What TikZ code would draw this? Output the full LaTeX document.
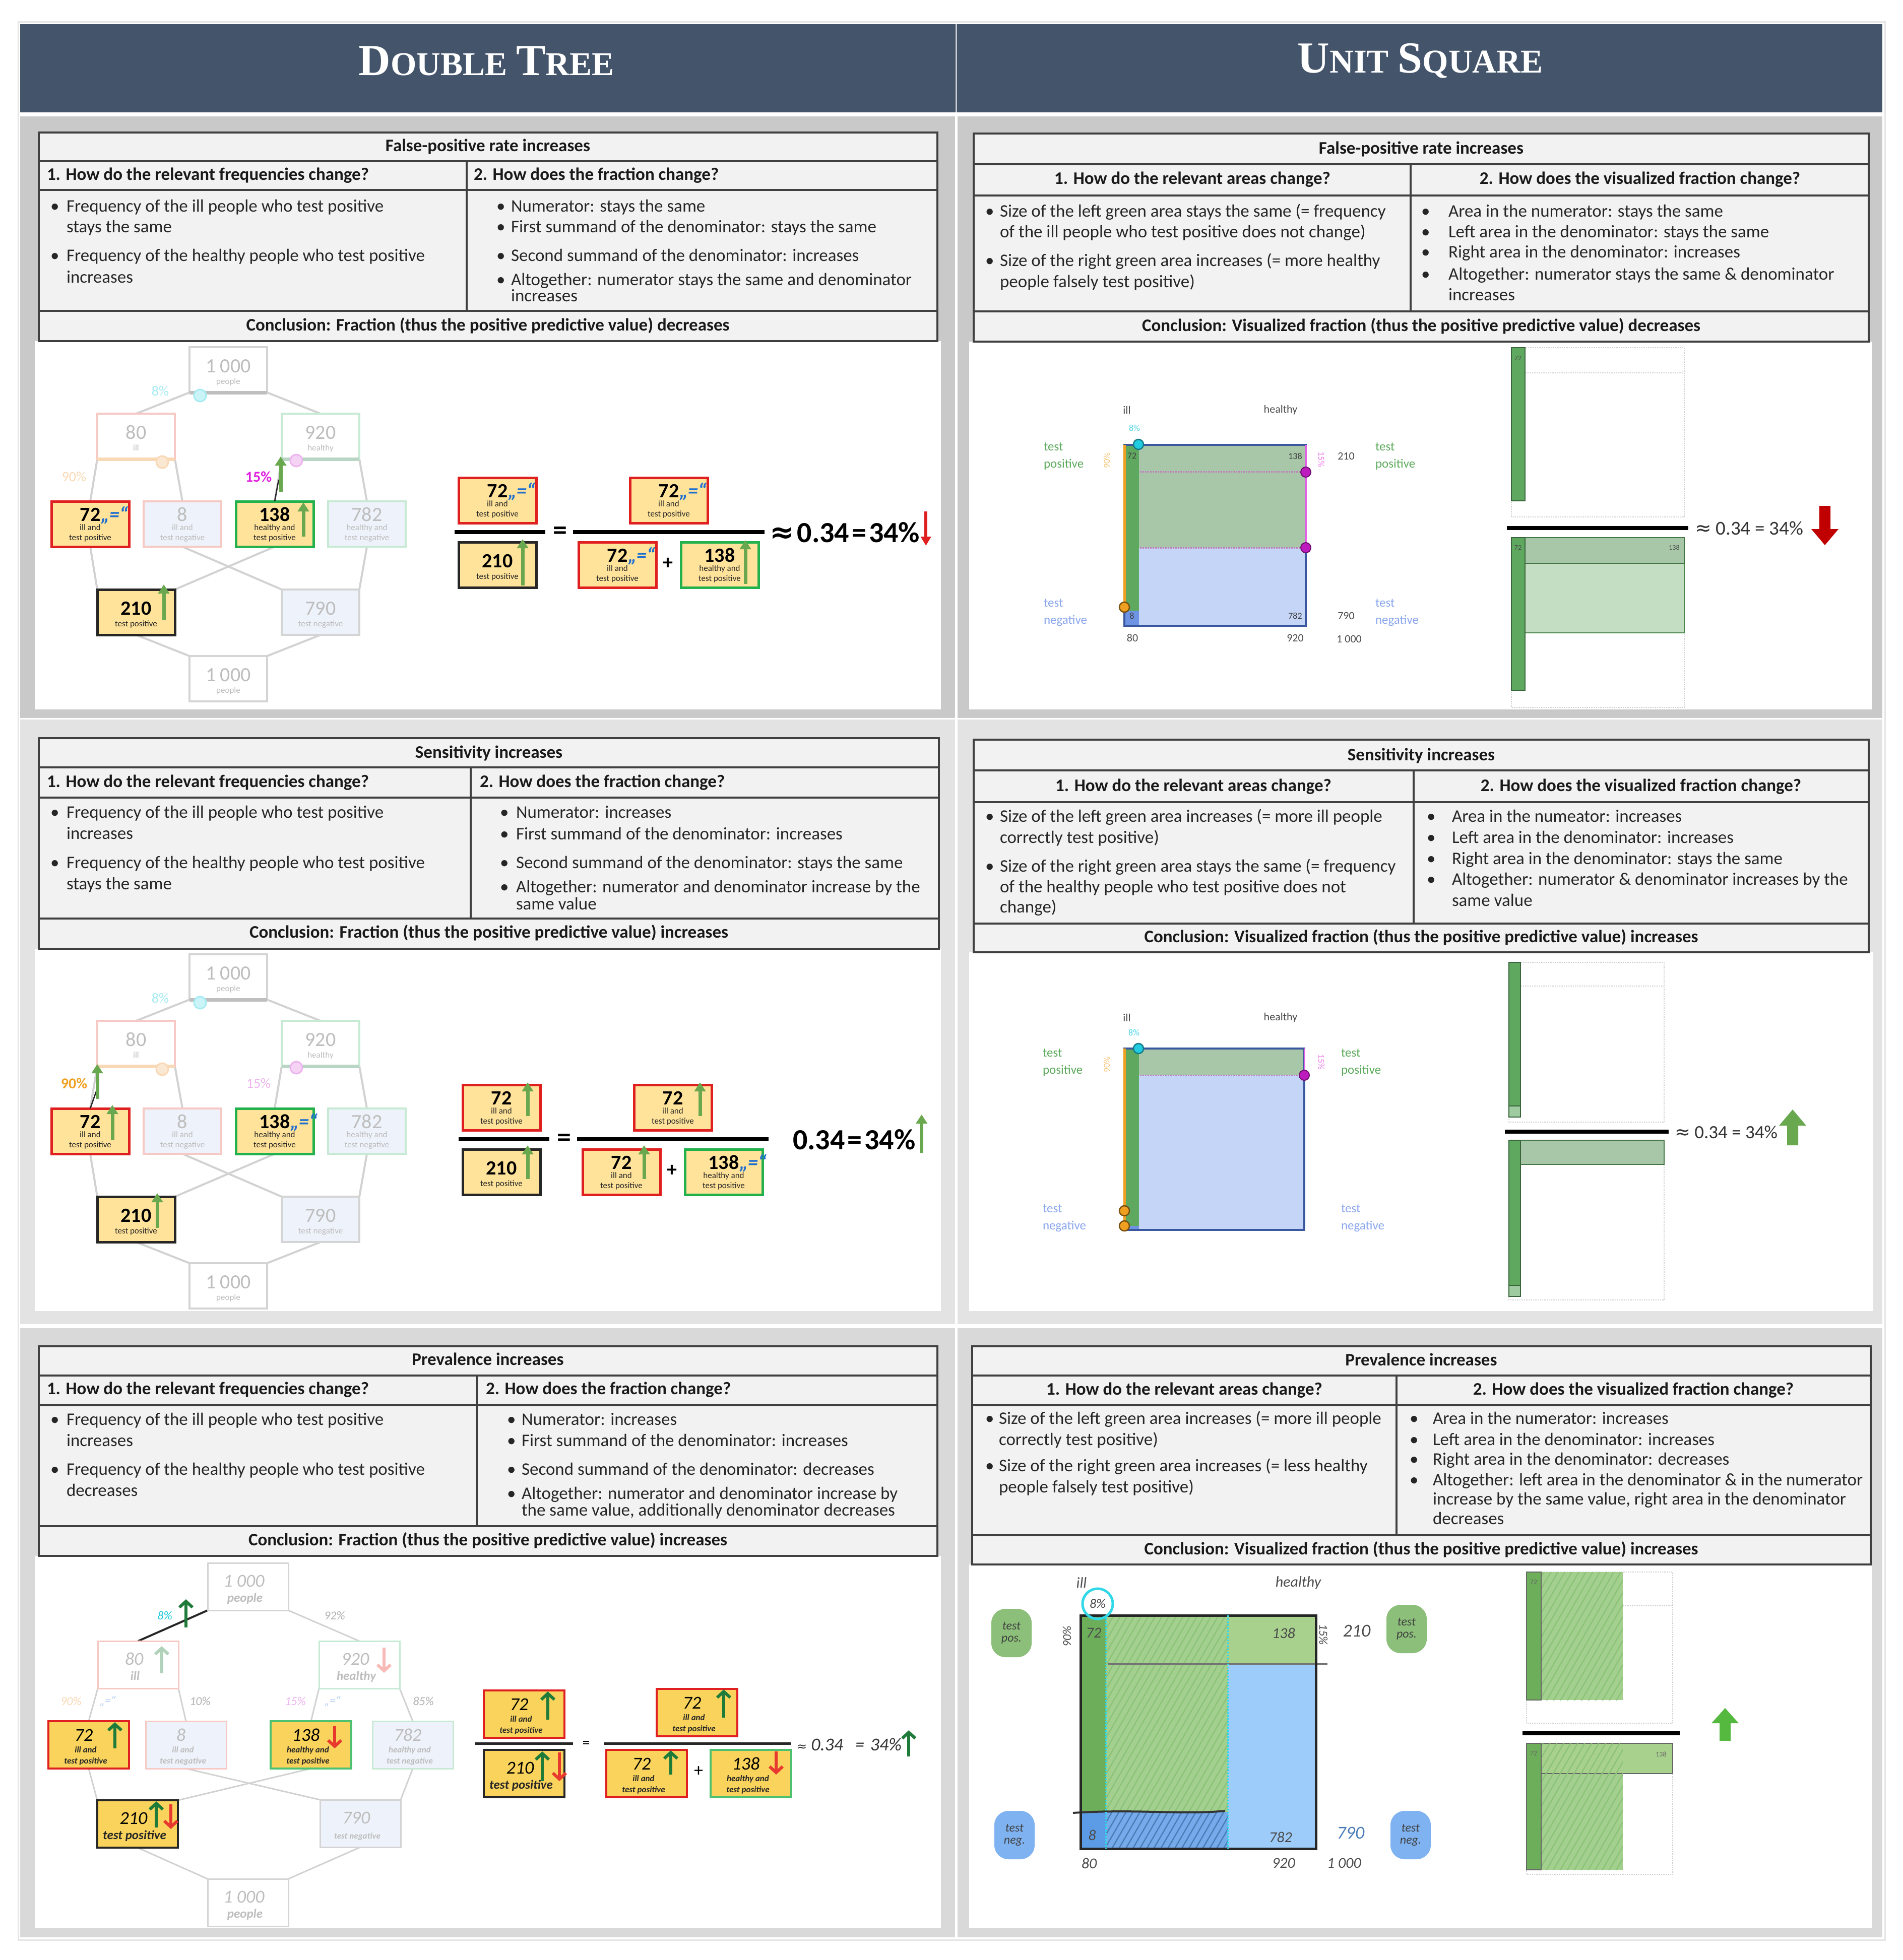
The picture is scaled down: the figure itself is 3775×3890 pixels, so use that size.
\documentclass[tikz,border=0pt]{standalone}
\usepackage{fontspec}
\setmainfont{Carlito}
\newfontfamily\serifT{Liberation Serif}
\newfontfamily\dejavu{DejaVu Sans}
\usetikzlibrary{arrows.meta,calc,patterns.meta}
\pgfdeclarelayer{bg}
\pgfdeclarelayer{lines}
\pgfsetlayers{bg,lines,main}

\definecolor{titlebg}{HTML}{44546A}
\definecolor{frameC}{HTML}{E6E6E6}
\definecolor{panelA}{HTML}{C9C9C9}
\definecolor{panelB}{HTML}{E3E3E3}
\definecolor{panelC}{HTML}{D9D9D9}
\definecolor{tblfill}{HTML}{F2F2F2}
\definecolor{tblC}{HTML}{404040}
\definecolor{boxgray}{HTML}{D4D4D4}
\definecolor{connC}{HTML}{D2D2D2}
\definecolor{txtgray}{HTML}{BDBDBD}
\definecolor{boxpink}{HTML}{F6C9C4}
\definecolor{boxmint}{HTML}{C7EAD4}
\definecolor{paleblue}{HTML}{EEF2FA}
\definecolor{yellowA}{HTML}{FFE39A}
\definecolor{yellowC}{HTML}{F9D35B}
\definecolor{redB}{HTML}{E02020}
\definecolor{greenB}{HTML}{22B14C}
\definecolor{arrowG}{HTML}{6AA84F}
\definecolor{quoteblue}{HTML}{1F6FD0}
\definecolor{cyanL}{HTML}{A6ECF2}
\definecolor{cyanB}{HTML}{22CCE0}
\definecolor{peachL}{HTML}{F9D9B5}
\definecolor{orangeA}{HTML}{F0A020}
\definecolor{magentaA}{HTML}{E020E0}
\definecolor{pinkL}{HTML}{EDB5EE}
\definecolor{sqblue}{HTML}{C5D5F7}
\definecolor{sqborder}{HTML}{3A58A0}
\definecolor{sqgreen}{HTML}{A8C7A9}
\definecolor{sqgreenL}{HTML}{C4DEC4}
\definecolor{stripgreen}{HTML}{5FA860}
\definecolor{stripblue}{HTML}{6F93E3}
\definecolor{labgreen}{HTML}{5DAA5D}
\definecolor{labblue}{HTML}{8AA6EE}
\definecolor{darkred}{HTML}{C00000}
\definecolor{hgreen}{HTML}{1E7B3A}
\definecolor{hred}{HTML}{E8392F}
\definecolor{hatchG}{HTML}{6FB456}
\definecolor{hfillG}{HTML}{A3D08E}
\definecolor{hstrip}{HTML}{6DAE5A}
\definecolor{hgreenL}{HTML}{A9D18E}
\definecolor{hblue}{HTML}{9DCCFA}
\definecolor{hblueD}{HTML}{5C9CE6}
\definecolor{cyanH}{HTML}{30D8E8}
\definecolor{blobG}{HTML}{8CC07A}
\definecolor{blobB}{HTML}{7FB2F0}

\newcommand{\gy}{\color{txtgray}}
\newcommand{\qeq}{\rlap{\hspace{1pt}\color{quoteblue}\bfseries\itshape „=“}}
\newcommand{\hbig}{\fontsize{25}{25}\selectfont}

\tikzset{
  ttl/.style={font=\fontsize{35}{35}\selectfont\bfseries, text=black!90, text height=25pt, text depth=8pt},
  hdr/.style={ttl, anchor=west},
  body/.style={font=\fontsize{35}{35}\selectfont, text=black!85, text height=25pt, text depth=8pt, anchor=west},
  tblline/.style={draw=tblC, line width=3.5pt},
  conn/.style={draw=connC, line width=4pt},
  boxbase/.style={minimum width=154pt, minimum height=90pt, line width=4pt},
  gbox/.style={boxbase, draw=boxgray, fill=white},
  pbox/.style={boxbase, draw=boxpink, fill=white},
  mbox/.style={boxbase, draw=boxmint, fill=white},
  pbB/.style={boxbase, draw=boxpink, fill=paleblue},
  mbB/.style={boxbase, draw=boxmint, fill=paleblue},
  gbB/.style={boxbase, draw=boxgray, fill=paleblue},
  yR/.style={boxbase, draw=redB, fill=yellowA, line width=5pt},
  yG/.style={boxbase, draw=greenB, fill=yellowA, line width=5pt},
  yK/.style={boxbase, draw=black!85, fill=yellowA, line width=5pt},
  hb/.style={minimum width=160pt, minimum height=94pt, line width=3pt},
  gbox3/.style={hb, draw=boxgray, fill=white},
  pbox3/.style={hb, draw=boxpink, fill=white},
  mbox3/.style={hb, draw=boxmint, fill=white},
  pbB3/.style={hb, draw=boxpink, fill=paleblue},
  mbB3/.style={hb, draw=boxmint, fill=paleblue},
  gbB3/.style={hb, draw=boxgray, fill=paleblue},
  yR3/.style={hb, draw=redB, fill=yellowC, line width=4pt},
  yG3/.style={hb, draw=greenB!80, fill=yellowC, line width=4pt},
  yK3/.style={hb, draw=black!85, fill=yellowC, line width=4pt},
  numtxt/.style={font=\fontsize{40}{40}\selectfont, text=black, text height=27pt, text depth=0pt},
  smtxt/.style={font=\fontsize{17}{17}\selectfont, text=black!85, text height=12pt, text depth=4pt},
  hnum/.style={font=\fontsize{36}{36}\selectfont\itshape, text=black, text height=25pt, text depth=0pt},
  hsm/.style={font=\fontsize{17}{17}\selectfont\itshape\bfseries, text=black!85, text height=12pt, text depth=4pt},
  garrow/.style={draw=arrowG, line width=7pt, -{Triangle[width=22pt,length=18pt]}},
  rarrow/.style={draw=redB, line width=6pt, -{Triangle[width=20pt,length=18pt]}},
  hgar/.style={draw=hgreen, line width=6pt, -{Straight Barb[length=12pt,width=26pt]}},
  hrar/.style={draw=hred, line width=6pt, -{Straight Barb[length=12pt,width=26pt]}},
  fracbar/.style={draw=black, line width=8pt},
  eqtxt/.style={font=\fontsize{56}{56}\selectfont\bfseries},
  restxt/.style={font=\fontsize{58}{58}\selectfont\bfseries, anchor=west, text height=38pt, text depth=0pt},
  pct/.style={font=\fontsize{28}{28}\selectfont},
  usl/.style={font=\fontsize{22}{22}\selectfont, text=black!70},
  usn/.style={font=\fontsize{18}{18}\selectfont, text=black!75},
  ustp/.style={font=\fontsize{25}{34}\selectfont, align=left, anchor=west},
  usres/.style={font=\fontsize{39}{39}\selectfont, text=black!80, anchor=west, text height=27pt, text depth=0pt},
  dotline/.style={draw=violet!50, line width=3pt, dotted},
  dotbox/.style={draw=black!18, line width=2.5pt, dotted},
  hwl/.style={font=\fontsize{30}{30}\selectfont\itshape, text=black!70},
  hpct/.style={font=\fontsize{24}{24}\selectfont\itshape},
  hatch/.style={pattern={Lines[angle=60,distance=12pt,line width=2.5pt]}, pattern color=hatchG!80},
  blob/.style={rounded corners=28pt, minimum width=80pt, minimum height=96pt, align=center, font=\fontsize{24}{24}\selectfont\itshape, text=black!75}
}

\newcommand{\Tbl}[8]{%
  \fill[tblfill] (#1,#3) rectangle (#2,#7);
  \draw[tblline] (#1,#4) -- (#2,#4);
  \draw[tblline] (#1,#5) -- (#2,#5);
  \draw[tblline] (#1,#6) -- (#2,#6);
  \draw[tblline] (#8,#4) -- (#8,#6);
  \draw[tblline] (#1,#3) rectangle (#2,#7);}
\newcommand{\Ti}[5]{\node[body] (#1d) at (#2,#4) {\textbullet}; \node[body] (#1) at (#3,#4) {#5};}
\newcommand{\Tl}[4]{\node[body] (#1) at (#2,#3) {#4};}

\newcommand{\TwoL}[6]{%
  \node[#4] (#1) at (#2,#3) {};
  \node[numtxt] (#1n) at ($(#1.center)+(0,-8)$) {#5};
  \node[smtxt] (#1a) at ($(#1.center)+(0,24)$) {#6};}
\newcommand{\ThreeL}[7]{%
  \node[#4] (#1) at (#2,#3) {};
  \node[numtxt] (#1n) at ($(#1.center)+(0,-19)$) {#5};
  \node[smtxt] (#1a) at ($(#1.center)+(0,8)$) {#6};
  \node[smtxt] (#1b) at ($(#1.center)+(0,28)$) {#7};}
\newcommand{\TwoH}[6]{%
  \node[#4] (#1) at (#2,#3) {};
  \node[hnum] (#1n) at ($(#1.center)+(-8,-12)$) {#5};
  \node[hsm] (#1a) at ($(#1.center)+(-6,26)$) {#6};}
\newcommand{\ThreeH}[7]{%
  \node[#4] (#1) at (#2,#3) {};
  \node[hnum] (#1n) at ($(#1.center)+(-10,-20)$) {#5};
  \node[hsm] (#1a) at ($(#1.center)+(-6,11)$) {#6};
  \node[hsm] (#1b) at ($(#1.center)+(-6,33)$) {#7};}

% block arrow: x, ytip, yhead, ybase, color
\newcommand{\BArrow}[5]{\fill[#5] (#1-11,#4) -- (#1-11,#3) -- (#1-27,#3) -- (#1,#2) -- (#1+27,#3) -- (#1+11,#3) -- (#1+11,#4) -- cycle;}

\newcommand{\DTree}[4]{%
  \TwoL{#1T}{453}{734+#2}{gbox}{\gy 1\hspace{8pt}000}{\gy people}
  \TwoL{#1I}{270}{866+#2}{pbox}{\gy 80}{\gy ill}
  \TwoL{#1H}{636}{866+#2}{mbox}{\gy 920}{\gy healthy}
  \ThreeL{#1A}{179}{1040+#2}{yR}{#3}{ill and}{test positive}
  \ThreeL{#1B}{362}{1040+#2}{pbB}{\gy 8}{\gy ill and}{\gy test negative}
  \ThreeL{#1C}{545}{1040+#2}{yG}{#4}{healthy and}{test positive}
  \ThreeL{#1D}{728}{1040+#2}{mbB}{\gy 782}{\gy healthy and}{\gy test negative}
  \TwoL{#1P}{270}{1215+#2}{yK}{\bfseries 210}{test positive}
  \TwoL{#1N}{636}{1215+#2}{gbB}{\gy 790}{\gy test negative}
  \TwoL{#1E}{453}{1347+#2}{gbox}{\gy 1\hspace{8pt}000}{\gy people}
  \begin{pgfonlayer}{lines}
  \draw[conn] (#1T.south west) -- (#1I.north);
  \draw[conn] (#1T.south east) -- (#1H.north);
  \draw[conn] (#1I.south west) -- (#1A.north);
  \draw[conn] (#1I.south east) -- (#1B.north);
  \draw[conn] (#1H.south west) -- (#1C.north);
  \draw[conn] (#1H.south east) -- (#1D.north);
  \draw[conn] (#1A.south) -- (#1P.north west);
  \draw[conn] (#1C.south) -- (#1P.north east);
  \draw[conn] (#1B.south) -- (#1N.north west);
  \draw[conn] (#1D.south) -- (#1N.north east);
  \draw[conn] (#1P.south) -- (#1E.north west);
  \draw[conn] (#1N.south) -- (#1E.north east);
  \end{pgfonlayer}
  \draw[line width=7pt, black!25] (#1T.south west) -- (#1T.south east);
  \draw[line width=7pt, peachL] (#1I.south west) -- (#1I.south east);
  \draw[line width=7pt, boxmint!80!gray] (#1H.south west) -- (#1H.south east);
  \filldraw[fill=cyanL!60, draw=cyanL, line width=3pt] ($(#1T.south west)+(21,6)$) circle (12);
  \filldraw[fill=peachL!60, draw=peachL, line width=3pt] ($(#1I.south west)+(129,6)$) circle (12);
  \filldraw[fill=pinkL!60, draw=pinkL, line width=3pt] ($(#1H.south west)+(29,3)$) circle (12);
}

\newcommand{\LFrac}[5]{%
  \ThreeL{#1a}{987+#3}{993+#2}{yR}{#4}{ill and}{test positive}
  \TwoL{#1b}{987+#3}{1121+#2}{yK}{\bfseries 210}{test positive}
  \ThreeL{#1c}{1327+#3}{993+#2}{yR}{#4}{ill and}{test positive}
  \ThreeL{#1d}{1225+#3}{1121+#2}{yR}{#4}{ill and}{test positive}
  \ThreeL{#1e}{1428+#3}{1121+#2}{yG}{#5}{healthy and}{test positive}
  \node[eqtxt] (#1eq) at (1111+#3,1058+#2) {=};
  \node[font=\fontsize{40}{40}\selectfont\bfseries] (#1pl) at (1325+#3,1118+#2) {+};
  \draw[fracbar] (902+#3,1056+#2) -- (1082+#3,1056+#2);
  \draw[fracbar] (1137+#3,1056+#2) -- (1517+#3,1056+#2);
}

\begin{document}
\begin{tikzpicture}[x=1pt,y=-1pt, every node/.style={inner sep=0pt,outer sep=0pt}]
\useasboundingbox (0,0) rectangle (3775,3890);
\begin{pgfonlayer}{bg}
\fill[white] (0,0) rectangle (3775,3890);
\draw[frameC, line width=3pt] (36,43) rectangle (3740,3850);
\fill[titlebg] (40,48) rectangle (3735,223);
\draw[white!70!titlebg, line width=3pt] (1897,48) -- (1897,223);
\fill[panelA] (40,231) rectangle (1895,1425);
\fill[panelA] (1900,231) rectangle (3735,1425);
\fill[panelB] (40,1428) rectangle (1895,2628);
\fill[panelB] (1900,1428) rectangle (3735,2628);
\fill[panelC] (40,2636) rectangle (1895,3845);
\fill[panelC] (1900,2636) rectangle (3735,3845);
\fill[white] (69,677) rectangle (1867,1408);
\fill[white] (1923,678) rectangle (3715,1408);
\fill[white] (69,1883) rectangle (1867,2602);
\fill[white] (1923,1890) rectangle (3717,2602);
\fill[white] (69,3088) rectangle (1867,3826);
\fill[white] (1923,3105) rectangle (3715,3826);
\end{pgfonlayer}

% ---------- titles
\node[font=\serifT\bfseries, text=white] (ttlA) at (965,121) {\fontsize{88}{88}\selectfont D\fontsize{66}{66}\selectfont OUBLE\hspace{18pt}\fontsize{88}{88}\selectfont T\fontsize{66}{66}\selectfont REE};
\node[font=\serifT\bfseries, text=white] (ttlB) at (2818,121) {\fontsize{88}{88}\selectfont U\fontsize{66}{66}\selectfont NIT\hspace{18pt}\fontsize{88}{88}\selectfont S\fontsize{66}{66}\selectfont QUARE};

% ---------- tables row 1
\Tbl{77}{1860}{263}{320}{377}{617}{677}{926}
\node[ttl] (r1Lt) at (968,292) {False-positive rate increases};
\node[hdr] (r1Lh1) at (93,349) {1. How do the relevant frequencies change?};
\node[hdr] (r1Lh2) at (940,349) {2. How does the fraction change?};
\Ti{r1La}{100}{132}{412}{Frequency of the ill people who test positive}
\Tl{r1Lb}{132}{453}{stays the same}
\Ti{r1Lc}{100}{132}{510}{Frequency of the healthy people who test positive}
\Tl{r1Ld}{132}{553}{increases}
\Ti{r1Le}{985}{1014}{412}{Numerator: stays the same}
\Ti{r1Lf}{985}{1014}{453}{First summand of the denominator: stays the same}
\Ti{r1Lg}{985}{1014}{510}{Second summand of the denominator: increases}
\Ti{r1Lh}{985}{1014}{558}{Altogether: numerator stays the same and denominator}
\Tl{r1Li}{1014}{590}{increases}
\node[ttl] (r1Lz) at (968,648) {Conclusion: Fraction (thus the positive predictive value) decreases};

\Tbl{1932}{3708}{265}{326}{388}{618}{678}{2799}
\node[ttl] (r1Rt) at (2820,297) {False-positive rate increases};
\node[ttl] (r1Rh1) at (2366,357) {1. How do the relevant areas change?};
\node[ttl] (r1Rh2) at (3254,357) {2. How does the visualized fraction change?};
\Ti{r1Ra}{1955}{1984}{422}{Size of the left green area stays the same (= frequency}
\Tl{r1Rb}{1984}{463}{of the ill people who test positive does not change)}
\Ti{r1Rc}{1955}{1984}{520}{Size of the right green area increases (= more healthy}
\Tl{r1Rd}{1984}{562}{people falsely test positive)}
\Ti{r1Re}{2820}{2874}{422}{Area in the numerator: stays the same}
\Ti{r1Rf}{2820}{2874}{463}{Left area in the denominator: stays the same}
\Ti{r1Rg}{2820}{2874}{503}{Right area in the denominator: increases}
\Ti{r1Rh}{2820}{2874}{547}{Altogether: numerator stays the same \& denominator}
\Tl{r1Ri}{2874}{588}{increases}
\node[ttl] (r1Rz) at (2820,649) {Conclusion: Visualized fraction (thus the positive predictive value) decreases};

% ---------- tables row 2
\Tbl{77}{1863}{1465}{1523}{1583}{1823}{1883}{934}
\node[ttl] (r2Lt) at (970,1496) {Sensitivity increases};
\node[hdr] (r2Lh1) at (93,1554) {1. How do the relevant frequencies change?};
\node[hdr] (r2Lh2) at (952,1554) {2. How does the fraction change?};
\Ti{r2La}{100}{132}{1615}{Frequency of the ill people who test positive}
\Tl{r2Lb}{132}{1657}{increases}
\Ti{r2Lc}{100}{132}{1715}{Frequency of the healthy people who test positive}
\Tl{r2Ld}{132}{1757}{stays the same}
\Ti{r2Le}{992}{1024}{1615}{Numerator: increases}
\Ti{r2Lf}{992}{1024}{1658}{First summand of the denominator: increases}
\Ti{r2Lg}{992}{1024}{1715}{Second summand of the denominator: stays the same}
\Ti{r2Lh}{992}{1024}{1763}{Altogether: numerator and denominator increase by the}
\Tl{r2Li}{1024}{1797}{same value}
\node[ttl] (r2Lz) at (970,1853) {Conclusion: Fraction (thus the positive predictive value) increases};

\Tbl{1932}{3708}{1468}{1529}{1592}{1833}{1890}{2805}
\node[ttl] (r2Rt) at (2820,1501) {Sensitivity increases};
\node[ttl] (r2Rh1) at (2368,1562) {1. How do the relevant areas change?};
\node[ttl] (r2Rh2) at (3256,1562) {2. How does the visualized fraction change?};
\Ti{r2Ra}{1955}{1984}{1623}{Size of the left green area increases (= more ill people}
\Tl{r2Rb}{1984}{1665}{correctly test positive)}
\Ti{r2Rc}{1955}{1984}{1722}{Size of the right green area stays the same (= frequency}
\Tl{r2Rd}{1984}{1763}{of the healthy people who test positive does not}
\Tl{r2Re}{1984}{1803}{change)}
\Ti{r2Rf}{2831}{2881}{1623}{Area in the numeator: increases}
\Ti{r2Rg}{2831}{2881}{1665}{Left area in the denominator: increases}
\Ti{r2Rh}{2831}{2881}{1707}{Right area in the denominator: stays the same}
\Ti{r2Ri}{2831}{2881}{1748}{Altogether: numerator \& denominator increases by the}
\Tl{r2Rj}{2881}{1790}{same value}
\node[ttl] (r2Rz) at (2820,1862) {Conclusion: Visualized fraction (thus the positive predictive value) increases};

% ---------- tables row 3
\Tbl{77}{1860}{2672}{2730}{2789}{3029}{3088}{946}
\node[ttl] (r3Lt) at (968,2701) {Prevalence increases};
\node[hdr] (r3Lh1) at (93,2759) {1. How do the relevant frequencies change?};
\node[hdr] (r3Lh2) at (964,2759) {2. How does the fraction change?};
\Ti{r3La}{100}{132}{2820}{Frequency of the ill people who test positive}
\Tl{r3Lb}{132}{2862}{increases}
\Ti{r3Lc}{100}{132}{2919}{Frequency of the healthy people who test positive}
\Tl{r3Ld}{132}{2961}{decreases}
\Ti{r3Le}{1006}{1035}{2820}{Numerator: increases}
\Ti{r3Lf}{1006}{1035}{2862}{First summand of the denominator: increases}
\Ti{r3Lg}{1006}{1035}{2919}{Second summand of the denominator: decreases}
\Ti{r3Lh}{1006}{1035}{2967}{Altogether: numerator and denominator increase by}
\Tl{r3Li}{1035}{3000}{the same value, additionally denominator decreases}
\node[ttl] (r3Lz) at (968,3059) {Conclusion: Fraction (thus the positive predictive value) increases};

\Tbl{1929}{3712}{2672}{2730}{2789}{3047}{3105}{2771}
\node[ttl] (r3Rt) at (2820,2702) {Prevalence increases};
\node[ttl] (r3Rh1) at (2350,2760) {1. How do the relevant areas change?};
\node[ttl] (r3Rh2) at (3241,2760) {2. How does the visualized fraction change?};
\Ti{r3Ra}{1955}{1982}{2818}{Size of the left green area increases (= more ill people}
\Tl{r3Rb}{1982}{2860}{correctly test positive)}
\Ti{r3Rc}{1955}{1982}{2912}{Size of the right green area increases (= less healthy}
\Tl{r3Rd}{1982}{2954}{people falsely test positive)}
\Ti{r3Re}{2797}{2843}{2818}{Area in the numerator: increases}
\Ti{r3Rf}{2797}{2843}{2860}{Left area in the denominator: increases}
\Ti{r3Rg}{2797}{2843}{2899}{Right area in the denominator: decreases}
\Ti{r3Rh}{2797}{2843}{2940}{Altogether: left area in the denominator \& in the numerator}
\Tl{r3Ri}{2843}{2978}{increase by the same value, right area in the denominator}
\Tl{r3Rj}{2843}{3017}{decreases}
\node[ttl] (r3Rz) at (2820,3077) {Conclusion: Visualized fraction (thus the positive predictive value) increases};

% ================= ROW 1 double tree
\DTree{a}{0}{\bfseries 72\qeq}{\bfseries 138}
\node[pct, text=cyanL] (ap8) at (318,776) {8\%};
\node[pct, text=peachL] (ap90) at (147,946) {90\%};
\node[pct, text=magentaA, font=\fontsize{30}{30}\selectfont\bfseries] (ap15) at (513,946) {15\%};
\draw[black!85, line width=2.5pt] (aC.north) -- ($(aC.north)+(8,-43)$);
\draw[garrow] ($(aC.north)+(12,-19)$) -- ($(aC.north)+(12,-89)$);
\draw[garrow] ($(aC.center)+(57,25)$) -- ($(aC.center)+(57,-43)$);
\draw[garrow] ($(aP.center)+(55,15)$) -- ($(aP.center)+(55,-55)$);
\LFrac{f}{0}{0}{\bfseries 72\qeq}{\bfseries 138}
\draw[garrow] ($(fb.center)+(50,41)$) -- ($(fb.center)+(50,-51)$);
\draw[garrow] ($(fe.center)+(51,38)$) -- ($(fe.center)+(51,-49)$);
\node[restxt] (fres) at (1527,1057) {{\dejavu\bfseries ≈}\hspace{6pt}0.34\hspace{5pt}=\hspace{5pt}34\%};
\draw[rarrow] (fres.east) ++(12,-42) -- ++(0,68);

% ================= ROW 1 unit square
\fill[sqblue] (2231,883) rectangle (2591,1242);
\fill[sqgreen] (2260,883) rectangle (2591,1087);
\fill[stripgreen] (2233,883) rectangle (2260,1212);
\fill[stripblue] (2233,1212) rectangle (2260,1242);
\draw[dotline] (2262,936) -- (2589,936);
\draw[dotline] (2262,1087) -- (2589,1087);
\draw[sqborder, line width=4pt] (2231,883) rectangle (2591,1242);
\draw[orangeA, line width=5pt] (2231,883) -- (2231,1205);
\draw[magentaA!70, line width=3pt] (2591,883) -- (2591,1087);
\filldraw[fill=cyanB, draw=cyanB!60!black, line width=2.5pt] (2259,882) circle (10);
\filldraw[fill=orangeA, draw=orangeA!50!black, line width=2.5pt] (2231,1205) circle (10);
\filldraw[fill=magentaA!85!black, draw=magentaA!50!black, line width=2pt] (2591,937) circle (10);
\filldraw[fill=magentaA!85!black, draw=magentaA!50!black, line width=2pt] (2591,1087) circle (10);
\node[usl] (u1ill) at (2236,814) {ill};
\node[usl] (u1hea) at (2541,814) {healthy};
\node[usn, text=cyanB!80] (u1p8) at (2251,849) {8\%};
\node[usn] (u1n72) at (2246,905) {72};
\node[usn] (u1n138) at (2570,905) {138};
\node[usn] (u1n8) at (2246,1222) {8};
\node[usn] (u1n782) at (2570,1222) {782};
\node[usl] (u1n210) at (2671,905) {210};
\node[usl] (u1n790) at (2671,1222) {790};
\node[usl] (u1n80) at (2247,1266) {80};
\node[usl] (u1n920) at (2570,1266) {920};
\node[usl] (u1n1000) at (2677,1268) {1\hspace{5pt}000};
\node[ustp, text=labgreen] (u1tpl) at (2071,906) {test\\positive};
\node[ustp, text=labgreen] (u1tpr) at (2729,906) {test\\positive};
\node[ustp, text=labblue] (u1tnl) at (2071,1216) {test\\negative};
\node[ustp, text=labblue] (u1tnr) at (2729,1216) {test\\negative};
\node[usn, text=orangeA!60, rotate=90] (u1r90) at (2196,914) {90\%};
\node[usn, text=magentaA!55, rotate=-90] (u1r15) at (2622,912) {15\%};
% fraction
\draw[dotbox] (2999,690) rectangle (3342,1026);
\draw[dotbox] (3026,740) -- (3342,740);
\filldraw[fill=stripgreen, draw=stripgreen!60!black, line width=2pt] (2999,690) rectangle (3026,994);
\node[font=\fontsize{14}{14}\selectfont, text=black!70] (u1f72a) at (3012,711) {72};
\draw[fracbar] (2990,1048) -- (3350,1048);
\node[usres] (u1res) at (3363,1048) {{\dejavu ≈} 0.34 = 34\%};
\BArrow{3621}{1082}{1050}{1004}{darkred}
\draw[dotbox] (2999,1067) rectangle (3342,1404);
\filldraw[fill=sqgreenL, draw=stripgreen!80!black, line width=2.5pt] (3026,1118) rectangle (3342,1256);
\filldraw[fill=sqgreen, draw=stripgreen!70!black, line width=2.5pt] (3026,1067) rectangle (3342,1118);
\filldraw[fill=stripgreen, draw=stripgreen!60!black, line width=2pt] (2999,1067) rectangle (3026,1370);
\node[font=\fontsize{14}{14}\selectfont, text=black!70] (u1f72b) at (3012,1087) {72};
\node[font=\fontsize{14}{14}\selectfont, text=black!70] (u1f138) at (3322,1087) {138};

% ================= ROW 2 double tree
\DTree{b}{1205}{\bfseries 72}{\bfseries 138\qeq}
\node[pct, text=cyanL] (bp8) at (318,1981) {8\%};
\node[pct, text=orangeA, font=\fontsize{30}{30}\selectfont\bfseries] (bp90) at (147,2150) {90\%};
\node[pct, text=pinkL] (bp15) at (513,2150) {15\%};
\draw[black!85, line width=2.5pt] (bA.north) -- ($(bA.north)+(12,-34)$);
\draw[garrow] ($(bA.north)+(14,-19)$) -- ($(bA.north)+(14,-88)$);
\draw[garrow] ($(bA.center)+(44,18)$) -- ($(bA.center)+(44,-52)$);
\draw[garrow] ($(bP.center)+(42,17)$) -- ($(bP.center)+(42,-52)$);
\LFrac{g}{1205}{8}{\bfseries 72}{\bfseries 138\qeq}
\draw[garrow] ($(ga.center)+(52,17)$) -- ($(ga.center)+(52,-50)$);
\draw[garrow] ($(gc.center)+(54,17)$) -- ($(gc.center)+(54,-50)$);
\draw[garrow] ($(gb.center)+(52,14)$) -- ($(gb.center)+(52,-53)$);
\draw[garrow] ($(gd.center)+(45,14)$) -- ($(gd.center)+(45,-53)$);
\node[restxt] (gres) at (1573,2262) {0.34\hspace{5pt}=\hspace{5pt}34\%};
\draw[garrow] (gres.east) ++(12,26) -- ++(0,-76);

% ================= ROW 2 unit square
\fill[sqblue] (2231,2081) rectangle (2588,2441);
\fill[sqgreen] (2260,2081) rectangle (2588,2134);
\fill[stripgreen] (2233,2081) rectangle (2260,2433);
\fill[stripblue] (2233,2433) rectangle (2260,2441);
\draw[dotline] (2262,2134) -- (2586,2134);
\draw[sqborder, line width=4pt] (2231,2081) rectangle (2588,2441);
\draw[orangeA, line width=5pt] (2231,2081) -- (2231,2433);
\draw[magentaA!70, line width=3pt] (2588,2081) -- (2588,2134);
\filldraw[fill=cyanB, draw=cyanB!60!black, line width=2.5pt] (2259,2081) circle (10);
\filldraw[fill=orangeA, draw=orangeA!50!black, line width=2.5pt] (2231,2403) circle (10);
\filldraw[fill=orangeA, draw=orangeA!50!black, line width=2.5pt] (2231,2433) circle (10);
\filldraw[fill=magentaA!85!black, draw=magentaA!50!black, line width=2pt] (2588,2134) circle (10);
\node[usl] (u2ill) at (2236,2020) {ill};
\node[usl] (u2hea) at (2541,2020) {healthy};
\node[usn, text=cyanB!80] (u2p8) at (2250,2049) {8\%};
\node[ustp, text=labgreen] (u2tpl) at (2069,2109) {test\\positive};
\node[ustp, text=labgreen] (u2tpr) at (2661,2109) {test\\positive};
\node[ustp, text=labblue] (u2tnl) at (2069,2418) {test\\negative};
\node[ustp, text=labblue] (u2tnr) at (2661,2418) {test\\negative};
\node[usn, text=orangeA!60, rotate=90] (u2r90) at (2196,2113) {90\%};
\node[usn, text=magentaA!55, rotate=-90] (u2r15) at (2622,2108) {15\%};
\draw[dotbox] (2994,1910) rectangle (3302,2227);
\draw[dotbox] (3017,1957) -- (3302,1957);
\filldraw[fill=stripgreen, draw=stripgreen!60!black, line width=2pt] (2994,1910) rectangle (3017,2195);
\filldraw[fill=stripgreen!60, draw=stripgreen!60!black, line width=2pt] (2994,2195) rectangle (3017,2217);
\draw[fracbar] (2986,2246) -- (3311,2246);
\node[usres, font=\fontsize{37}{37}\selectfont] (u2res) at (3323,2246) {{\dejavu ≈} 0.34 = 34\%};
\BArrow{3557}{2202}{2234}{2273}{arrowG}
\draw[dotbox] (2994,2263) rectangle (3302,2580);
\filldraw[fill=sqgreen, draw=stripgreen!70!black, line width=2.5pt] (3017,2263) rectangle (3302,2311);
\filldraw[fill=stripgreen, draw=stripgreen!60!black, line width=2pt] (2994,2263) rectangle (3017,2551);
\filldraw[fill=stripgreen!60, draw=stripgreen!60!black, line width=2pt] (2994,2551) rectangle (3017,2573);

% ================= ROW 3 hand-drawn double tree
\TwoH{hT}{492}{3149}{gbox3}{\gy 1 000}{\hbig\gy people}
\TwoH{hI}{274}{3304}{pbox3}{\gy 80}{\hbig\gy ill}
\TwoH{hH}{713}{3304}{mbox3}{\gy 920}{\hbig\gy healthy}
\ThreeH{hA}{176}{3463}{yR3}{72}{ill and}{test positive}
\ThreeH{hB}{369}{3463}{pbB3}{\gy 8}{\gy ill and}{\gy test negative}
\ThreeH{hC}{617}{3463}{yG3}{138}{healthy and}{test positive}
\ThreeH{hD}{819}{3463}{mbB3}{\gy 782}{\gy healthy and}{\gy test negative}
\TwoH{hP}{273}{3620}{yK3}{210}{\hbig test positive}
\TwoH{hN}{715}{3619}{gbB3}{\gy 790}{\gy test negative}
\TwoH{hE}{492}{3776}{gbox3}{\gy 1 000}{\hbig\gy people}
\begin{pgfonlayer}{lines}
\draw[black!85, line width=4pt] (hT.south west) -- (hI.north);
\draw[conn, line width=3pt] (hT.south east) -- (hH.north);
\draw[conn, line width=3pt] (hI.south west) -- (hA.north);
\draw[conn, line width=3pt] (hI.south east) -- (hB.north);
\draw[conn, line width=3pt] (hH.south west) -- (hC.north);
\draw[conn, line width=3pt] (hH.south east) -- (hD.north);
\draw[conn, line width=3pt] (hA.south) -- (hP.north west);
\draw[conn, line width=3pt] (hC.south) -- (hP.north east);
\draw[conn, line width=3pt] (hB.south) -- (hN.north west);
\draw[conn, line width=3pt] (hD.south) -- (hN.north east);
\draw[conn, line width=3pt] (hP.south) -- (hE.north west);
\draw[conn, line width=3pt] (hN.south) -- (hE.north east);
\end{pgfonlayer}
\node[hpct, text=cyanB] (hp8) at (327,3206) {8\%};
\node[hpct, text=black!30] (hp92) at (664,3206) {92\%};
\node[hpct, text=peachL] (hp90) at (141,3376) {90\%};
\node[hpct, text=quoteblue!35] (hpq1) at (214,3376) {„=“};
\node[hpct, text=black!30] (hp10) at (397,3376) {10\%};
\node[hpct, text=pinkL] (hp15) at (586,3376) {15\%};
\node[hpct, text=quoteblue!35] (hpq2) at (660,3376) {„=“};
\node[hpct, text=black!30] (hp85) at (840,3376) {85\%};
\draw[hgar] ($(hT.south west)+(-43,34)$) -- ($(hT.south west)+(-43,-22)$);
\draw[hgar, hgreen!35] ($(hI.center)+(47,17)$) -- ($(hI.center)+(47,-37)$);
\draw[hrar, hred!35] ($(hH.center)+(49,-34)$) -- ($(hH.center)+(49,16)$);
\draw[hgar] ($(hA.center)+(52,7)$) -- ($(hA.center)+(52,-45)$);
\draw[hrar] ($(hC.center)+(47,-37)$) -- ($(hC.center)+(47,7)$);
\draw[hgar] ($(hP.center)+(37,7)$) -- ($(hP.center)+(37,-45)$);
\draw[hrar] ($(hP.center)+(66,-39)$) -- ($(hP.center)+(66,10)$);
% fraction
\ThreeH{hFa}{1040}{3402}{yR3}{72}{ill and}{test positive}
\TwoH{hFb}{1040}{3520}{yK3}{210}{\hbig test positive}
\ThreeH{hFc}{1383}{3399}{yR3}{72}{ill and}{test positive}
\ThreeH{hFd}{1283}{3520}{yR3}{72}{ill and}{test positive}
\ThreeH{hFe}{1490}{3520}{yG3}{138}{healthy and}{test positive}
\draw[black!85, line width=5pt] (942,3460) -- (1137,3460);
\draw[black!85, line width=5pt] (1198,3460) -- (1569,3460);
\node[hpct, font=\fontsize{30}{30}\selectfont] (hFeq) at (1163,3462) {=};
\node[hpct, font=\fontsize{36}{36}\selectfont] (hFpl) at (1386,3516) {+};
\node[hwl, font=\fontsize{36}{36}\selectfont\itshape, anchor=west, text=black!80] (hFres) at (1581,3462) {{\dejavu\fontsize{24}{24}\selectfont ≈} 0.34\hspace{24pt}=\hspace{12pt}34\%};
\draw[hgar] (hFres.east) ++(14,24) -- ++(0,-52);
\draw[hgar] ($(hFa.center)+(47,11)$) -- ($(hFa.center)+(47,-45)$);
\draw[hgar] ($(hFb.center)+(36,15)$) -- ($(hFb.center)+(36,-44)$);
\draw[hrar] ($(hFb.center)+(70,-42)$) -- ($(hFb.center)+(70,15)$);
\draw[hgar] ($(hFc.center)+(53,10)$) -- ($(hFc.center)+(53,-46)$);
\draw[hgar] ($(hFd.center)+(48,2)$) -- ($(hFd.center)+(48,-46)$);
\draw[hrar] ($(hFe.center)+(50,-44)$) -- ($(hFe.center)+(50,2)$);

% ================= ROW 3 hand-drawn unit square
\fill[hstrip] (2144,3206) rectangle (2195,3596);
\fill[hblueD] (2144,3596) rectangle (2195,3669);
\fill[hfillG] (2195,3206) rectangle (2437,3596);
\fill[hatch] (2195,3206) rectangle (2437,3596);
\fill[hblueD!85] (2195,3596) rectangle (2437,3669);
\fill[pattern={Lines[angle=60,distance=12pt,line width=2.5pt]}, pattern color=hblueD!80!black] (2195,3596) rectangle (2437,3669);
\fill[hgreenL] (2437,3206) rectangle (2611,3302);
\fill[hblue] (2437,3302) rectangle (2611,3669);
\draw[black!55, line width=3pt] (2199,3302) -- (2634,3302);
\draw[black!80, line width=4pt] (2129,3598) .. controls (2250,3590) and (2350,3602) .. (2431,3594);
\draw[black!85, line width=5pt] (2144,3206) rectangle (2611,3669);
\draw[cyanH, line width=4pt, dashed] (2195,3206) -- (2195,3669);
\draw[cyanH, line width=4pt, dashed] (2437,3206) -- (2437,3669);
\draw[cyanH, line width=5pt] (2178,3183) circle (30);
\node[hwl] (u3ill) at (2146,3141) {ill};
\node[hwl] (u3hea) at (2576,3141) {healthy};
\node[hwl, font=\fontsize{26}{26}\selectfont\itshape] (u3p8) at (2178,3183) {8\%};
\node[hwl] (u3n72) at (2170,3241) {72};
\node[hwl] (u3n138) at (2547,3241) {138};
\node[hwl, font=\fontsize{36}{36}\selectfont\itshape] (u3n210) at (2692,3237) {210};
\node[hwl] (u3n8) at (2167,3642) {8};
\node[hwl] (u3n782) at (2541,3646) {782};
\node[hwl, font=\fontsize{36}{36}\selectfont\itshape, text=hblueD!80!black] (u3n790) at (2680,3638) {790};
\node[hwl] (u3n80) at (2161,3698) {80};
\node[hwl] (u3n920) at (2547,3698) {920};
\node[hwl] (u3n1000) at (2667,3698) {1 000};
\node[blob, fill=blobG] (u3tpl) at (2007,3241) {test\\pos.};
\node[blob, fill=blobG] (u3tpr) at (2791,3233) {test\\pos.};
\node[blob, fill=blobB] (u3tnl) at (2013,3642) {test\\neg.};
\node[blob, fill=blobB] (u3tnr) at (2799,3642) {test\\neg.};
\node[hwl, font=\fontsize{24}{24}\selectfont\itshape, rotate=90] (u3r90) at (2117,3248) {90\%};
\node[hwl, font=\fontsize{24}{24}\selectfont\itshape, rotate=-90] (u3r15) at (2626,3244) {15\%};
% fraction
\draw[dotbox] (3029,3120) rectangle (3319,3420);
\draw[dotbox] (3058,3187) -- (3319,3187);
\fill[hfillG] (3058,3120) rectangle (3220,3374);
\fill[hatch] (3058,3120) rectangle (3220,3374);
\filldraw[fill=hstrip, draw=black!60, line width=2pt] (3029,3120) rectangle (3058,3374);
\node[font=\fontsize{14}{14}\selectfont, text=black!60] (u3f72a) at (3043,3140) {72};
\draw[fracbar] (3021,3440) -- (3333,3440);
\BArrow{3423}{3390}{3420}{3455}{arrowG!80!green}
\draw[dotbox] (3029,3460) rectangle (3319,3720);
\fill[hfillG] (3058,3520) rectangle (3220,3711);
\fill[hatch] (3058,3520) rectangle (3220,3711);
\filldraw[fill=hgreenL, draw=black!60, line width=2.5pt] (3058,3460) rectangle (3319,3520);
\fill[hatch] (3058,3460) rectangle (3220,3520);
\filldraw[fill=hstrip, draw=black!60, line width=2pt] (3029,3460) rectangle (3058,3711);
\node[font=\fontsize{14}{14}\selectfont, text=black!60] (u3f72b) at (3043,3480) {72};
\node[font=\fontsize{14}{14}\selectfont, text=black!60] (u3f138) at (3296,3482) {138};
\end{tikzpicture}
\end{document}
